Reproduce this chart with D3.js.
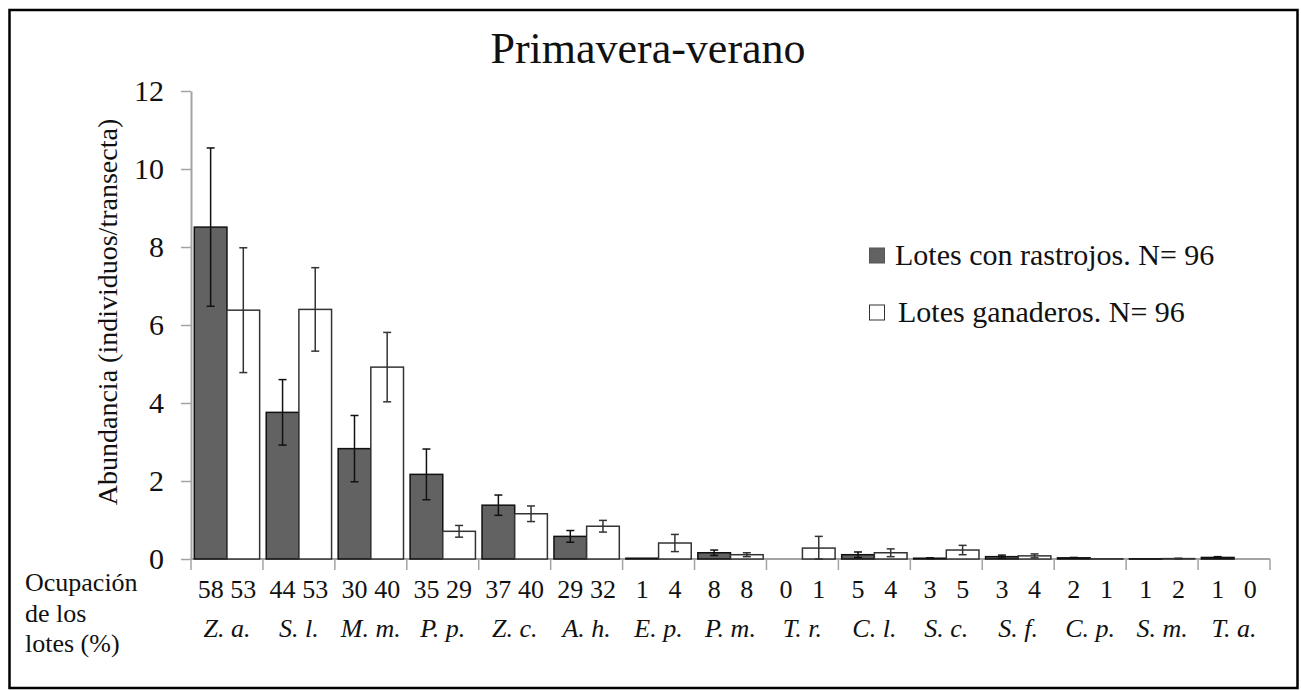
<!DOCTYPE html>
<html>
<head>
<meta charset="utf-8">
<script src="https://cdn.jsdelivr.net/npm/d3@7"></script>
<style>
  html, body { margin: 0; padding: 0; background: #fff; }
  svg text { font-family: "Liberation Serif", Tinos, "Times New Roman", Times, "DejaVu Serif", "Noto Serif", serif !important; fill: #111; }
</style>
</head>
<body>
<svg id="chart" width="1301" height="690"></svg>
<script>
// ---- Data ----
const categories = ["Z. a.", "S. l.", "M. m.", "P. p.", "Z. c.", "A. h.", "E. p.", "P. m.", "T. r.", "C. l.", "S. c.", "S. f.", "C. p.", "S. m.", "T. a."];
const seriesNames = ["Lotes con rastrojos. N= 96", "Lotes ganaderos. N= 96"];
const meanRastrojos = [8.51, 3.76, 2.83, 2.17, 1.38, 0.58, 0.02, 0.16, 0, 0.11, 0.02, 0.06, 0.03, 0.005, 0.04];
const errRastrojos  = [2.03, 0.84, 0.85, 0.65, 0.26, 0.15, 0, 0.07, 0, 0.07, 0.01, 0.04, 0.01, 0, 0.02];
const meanGanaderos = [6.38, 6.40, 4.92, 0.71, 1.16, 0.84, 0.41, 0.11, 0.28, 0.16, 0.23, 0.08, 0.005, 0.01, 0];
const errGanaderos  = [1.60, 1.07, 0.89, 0.15, 0.20, 0.15, 0.22, 0.05, 0.30, 0.10, 0.12, 0.05, 0, 0.01, 0];
const occRastrojos = [58, 44, 30, 35, 37, 29, 1, 8, 0, 5, 3, 3, 2, 1, 1];
const occGanaderos = [53, 53, 40, 29, 40, 32, 4, 8, 1, 4, 5, 4, 1, 2, 0];
const yTicks = [0, 2, 4, 6, 8, 10, 12];
const titleText = "Primavera-verano";
const yAxisTitle = "Abundancia (individuos/transecta)";
const occLabelLines = ["Ocupación", "de los", "lotes (%)"];

(function () {
// ---- Layout ----
const svg = d3.select("#chart");
const pLeft = 191, pRight = 1270, pTop = 91, pBottom = 559;
const darkFill = "#626262";
const axisGray = "#a3a3a3";
const serif = "'Liberation Serif', Tinos, 'Times New Roman', Times, 'DejaVu Serif', serif";

// outer frame
svg.append("rect").attr("x", 9.5).attr("y", 10).attr("width", 1288).attr("height", 678)
  .attr("fill", "none").attr("stroke", "#000").attr("stroke-width", 2.5);

const x = d3.scaleBand().domain(categories).range([pLeft, pRight]).padding(0);
const inner = d3.scaleBand().domain(["r", "g"]).range([3.3, x.bandwidth() - 3.3]).padding(0);
const y = d3.scaleLinear().domain([0, 12]).range([pBottom, pTop]);

// title
svg.append("text").attr("x", 648).attr("y", 63).attr("text-anchor", "middle")
  .attr("font-family", serif).style("font-size", "44px").text(titleText);

// y axis
const yAxis = svg.append("g").attr("transform", `translate(${pLeft},0)`)
  .call(d3.axisLeft(y).tickValues(yTicks).tickSize(10).tickSizeOuter(0).tickPadding(17));
yAxis.attr("font-family", serif);
yAxis.select(".domain").attr("stroke", axisGray).attr("stroke-width", 2);
yAxis.selectAll(".tick line").attr("stroke", axisGray).attr("stroke-width", 1.5);
yAxis.selectAll(".tick text").style("font-size", "30px").attr("fill", "#111").attr("dy", "0.33em");

// y axis title
svg.append("text").attr("transform", `translate(117,312) rotate(-90)`)
  .attr("text-anchor", "middle").style("font-size", "28px").text(yAxisTitle);

// x axis line and separators
svg.append("line").attr("x1", pLeft).attr("x2", pRight).attr("y1", pBottom).attr("y2", pBottom)
  .attr("stroke", axisGray).attr("stroke-width", 2);
const seps = categories.map(c => x(c)).concat([pRight]);
svg.selectAll("line.sep").data(seps).enter().append("line").attr("class", "sep")
  .attr("x1", d => d).attr("x2", d => d).attr("y1", pBottom).attr("y2", pBottom + 11)
  .attr("stroke", axisGray).attr("stroke-width", 1.5);

// bars
const rows = categories.map((c, i) => ({
  c,
  r: { m: meanRastrojos[i], e: errRastrojos[i], o: occRastrojos[i] },
  g: { m: meanGanaderos[i], e: errGanaderos[i], o: occGanaderos[i] }
}));

const groups = svg.selectAll("g.cat").data(rows).enter().append("g").attr("class", "cat")
  .attr("transform", d => `translate(${x(d.c)},0)`);

["r", "g"].forEach(k => {
  groups.filter(d => d[k].m > 0).append("rect")
    .attr("x", inner(k)).attr("width", inner.bandwidth())
    .attr("y", d => y(d[k].m)).attr("height", d => Math.max(0.3, y(0) - y(d[k].m)))
    .attr("fill", k === "r" ? darkFill : "#fff")
    .attr("stroke", k === "r" ? "#111" : "#333").attr("stroke-width", 1.5);

  const eb = groups.filter(d => d[k].e > 0).append("g")
    .attr("stroke", k === "r" ? "#111" : "#333").attr("stroke-width", 1.5);
  const cx = inner(k) + inner.bandwidth() / 2;
  eb.append("line").attr("x1", cx).attr("x2", cx)
    .attr("y1", d => y(d[k].m + d[k].e)).attr("y2", d => y(Math.max(0, d[k].m - d[k].e)));
  eb.append("line").attr("x1", cx - 4).attr("x2", cx + 4)
    .attr("y1", d => y(d[k].m + d[k].e)).attr("y2", d => y(d[k].m + d[k].e));
  eb.append("line").attr("x1", cx - 4).attr("x2", cx + 4)
    .attr("y1", d => y(Math.max(0, d[k].m - d[k].e))).attr("y2", d => y(Math.max(0, d[k].m - d[k].e)));

  // occupation numbers
  groups.append("text").attr("x", cx).attr("y", 598).attr("text-anchor", "middle")
    .style("font-size", "26px").text(d => d[k].o);
});

// species labels
groups.append("text").attr("x", x.bandwidth() / 2).attr("y", 637).attr("text-anchor", "middle")
  .style("font-size", "26px").style("font-style", "italic").text(d => d.c);

// occupation row label
svg.append("g").selectAll("text").data(occLabelLines).enter().append("text")
  .attr("x", 25).attr("y", (d, i) => 591 + i * 30.5).style("font-size", "26px").text(d => d);

// legend
const legend = svg.append("g");
seriesNames.forEach((name, i) => {
  const ly = 265 + i * 57;
  legend.append("rect").attr("x", 869.5).attr("y", ly - 17).attr("width", 15).attr("height", 15)
    .attr("fill", i === 0 ? darkFill : "#fff").attr("stroke", i === 0 ? "#555" : "#333").attr("stroke-width", 1);
  legend.append("text").attr("x", 895 + i * 3).attr("y", ly).style("font-size", "30px").text(name);
});
})();
</script>
</body>
</html>
